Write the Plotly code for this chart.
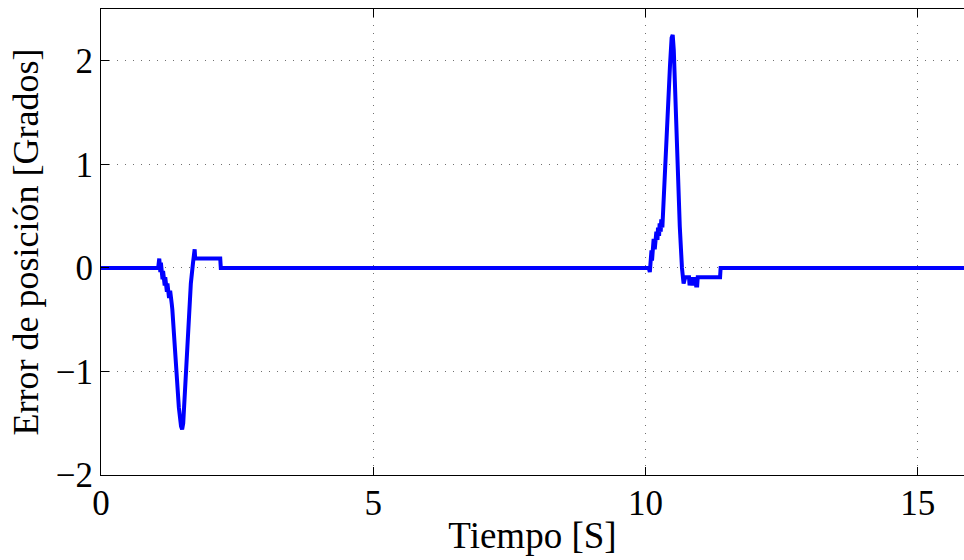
import plotly.graph_objects as go

# Time [s]
t = [0, 1.05, 1.07, 1.075, 1.08, 1.09, 1.10, 1.11, 1.12, 1.13, 1.14, 1.15, 1.16, 1.17, 1.18,
     1.19, 1.20, 1.21, 1.22, 1.23, 1.24, 1.25, 1.27, 1.28, 1.29, 1.30,
     1.31, 1.35, 1.39, 1.43, 1.47, 1.49, 1.51, 1.55, 1.60, 1.65, 1.69, 1.72, 1.73, 2.19, 2.20,
     10.06, 10.08, 10.09, 10.10, 10.11, 10.12, 10.13, 10.14, 10.15, 10.17, 10.18, 10.19, 10.20,
     10.22, 10.23, 10.25, 10.26, 10.28, 10.29, 10.31, 10.32, 10.33,
     10.37, 10.41, 10.45, 10.48, 10.50, 10.52, 10.55, 10.59, 10.63, 10.67, 10.70, 10.73, 10.80,
     10.81, 10.83, 10.85, 10.87, 10.89, 10.91, 10.93, 10.95, 10.96, 11.37, 11.38, 15.85]
# Position error [degrees]
err = [0, 0, 0.09, -0.01, 0.08, -0.04, 0.05, -0.07, 0.01, -0.11, -0.03, -0.13, -0.06, -0.17, -0.09,
       -0.20, -0.12, -0.23, -0.15, -0.26, -0.18, -0.29, -0.22, -0.32, -0.25, -0.35,
       -0.40, -0.75, -1.10, -1.35, -1.53, -1.56, -1.50, -1.10, -0.60, -0.15, 0.05, 0.18, 0.09, 0.09, 0,
       0, -0.04, 0.12, 0.02, 0.17, 0.07, 0.23, 0.13, 0.28, 0.18, 0.32, 0.23, 0.35,
       0.27, 0.39, 0.31, 0.43, 0.35, 0.47, 0.39, 0.51, 0.55,
       1.00, 1.50, 1.95, 2.22, 2.25, 2.10, 1.60, 1.00, 0.40, 0.00, -0.15, -0.09, -0.09,
       -0.17, -0.09, -0.17, -0.09, -0.17, -0.09, -0.17, -0.17, -0.09, -0.09, 0, 0]

x_ticks = [0, 5, 10, 15]
y_ticks = [-2, -1, 0, 1, 2]

font = "Liberation Serif, Times New Roman, serif"

fig = go.Figure()
fig.add_trace(go.Scatter(x=t, y=err, mode="lines",
                         line=dict(color="#0000ff", width=4)))

fig.update_layout(
    width=964, height=560,
    margin=dict(l=101, r=0, t=9, b=85),
    paper_bgcolor="white", plot_bgcolor="white",
    showlegend=False,
    font=dict(family=font, size=35, color="black"),
)
fig.update_xaxes(
    range=[0, 15.85], tickvals=x_ticks, ticks="inside", ticklen=8, tickcolor="black",
    showline=True, linecolor="black", linewidth=1, mirror="ticks",
    showgrid=True, gridcolor="#707070", griddash="1px,7px", gridwidth=1, zeroline=False,
    tickfont=dict(family=font, size=35), ticklabelstandoff=-3,
    title=dict(text="Tiempo [S]", font=dict(family=font, size=37), standoff=0),
    automargin=False,
)
fig.update_yaxes(
    range=[-2, 2.5], tickvals=y_ticks, ticks="inside", ticklen=8, tickcolor="black",
    showline=True, linecolor="black", linewidth=1, mirror=False,
    showgrid=True, gridcolor="#707070", griddash="1px,7px", gridwidth=1, zeroline=False,
    tickfont=dict(family=font, size=35),
    title=dict(text="Error de posición [Grados]", font=dict(family=font, size=36), standoff=6),
    automargin=False,
)

fig.write_html("out.html")
